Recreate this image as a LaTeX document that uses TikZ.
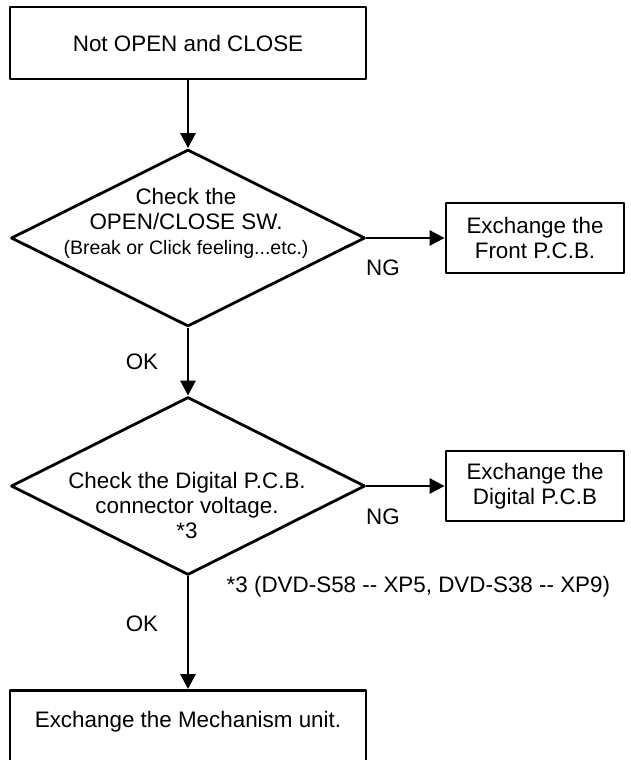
\documentclass[tikz,border=0pt]{standalone}
\usepackage{fontspec}
\setmainfont{Liberation Sans}
\usetikzlibrary{arrows.meta,shapes.geometric}

\begin{document}
\begin{tikzpicture}[x=1pt,y=-1pt,line join=round,>={Triangle[length=15pt,width=15pt]},line width=2.8pt]
\tikzset{every node/.style={font=\fontsize{22.4}{25}\selectfont},
  box/.style={draw,rectangle,minimum width=356pt,minimum height=72pt},
  pcb/.style={draw,rectangle,minimum width=178pt,minimum height=70pt,align=center},
  decision/.style={draw,diamond,minimum width=354pt,minimum height=177pt,inner sep=0pt}}
\useasboundingbox (0,0) rectangle (631,760);
% start
\node[box] (start) at (188,43) {Not OPEN and CLOSE};
% first check
\node[decision] (chk1) at (188,238) {};
\node[align=center] (chk1txt) at (186,223) {Check the\\OPEN/CLOSE SW.\\{\fontsize{19.5}{25}\selectfont(Break or Click feeling...etc.)}};
\node[pcb] (front) at (535,238) {Exchange the\\Front P.C.B.};
\node (ng1) at (383,268) {NG};
\node (ok1) at (142,362) {OK};
% second check
\node[decision,minimum height=178pt] (chk2) at (188,486) {};
\node[align=center] (chk2txt) at (187,505) {Check the Digital P.C.B.\\connector voltage.\\*3};
\node[pcb] (digital) at (535,486) {Exchange the\\Digital P.C.B};
\node (ng2) at (383,517) {NG};
\node[anchor=west] (note) at (222,587) {*3 (DVD-S58 -{}- XP5, DVD-S38 -{}- XP9)};
\node (ok2) at (142,624) {OK};
% end
\node[draw,minimum width=356pt,text height=37pt,text depth=37pt,inner ysep=0pt,anchor=north] (mech) at (188,689) {Exchange the Mechanism unit.};
\draw[->] (start.south) -- (chk1.north);
\draw[->] (chk1.east) -- (front.west);
\draw[->] (chk1.south) -- (chk2.north);
\draw[->] (chk2.east) -- (digital.west);
\draw[->] (chk2.south) -- (mech.north);
\end{tikzpicture}
\end{document}
